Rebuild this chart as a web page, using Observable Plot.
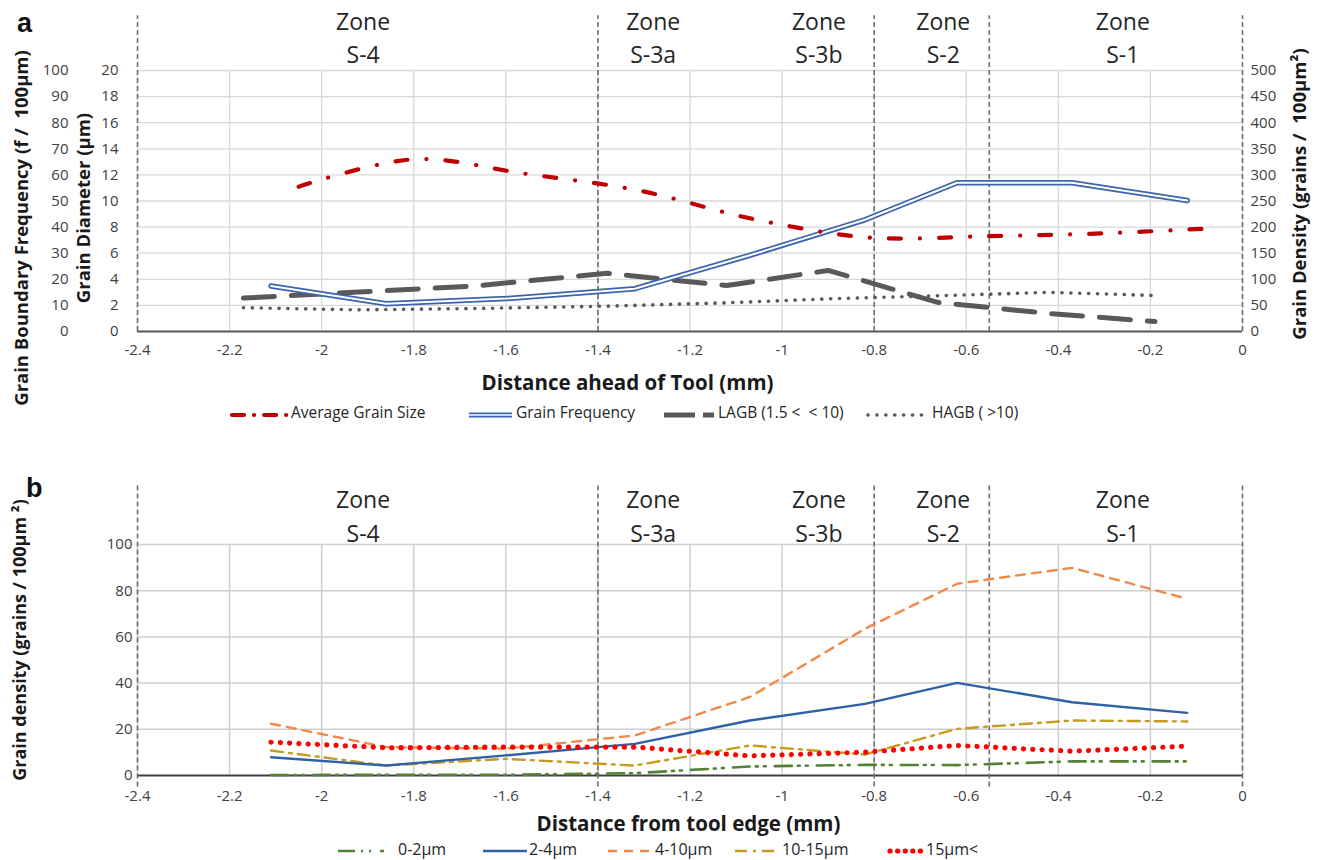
<!DOCTYPE html>
<html>
<head>
<meta charset="utf-8">
<script src="https://cdn.jsdelivr.net/npm/d3@7"></script>
<script src="https://cdn.jsdelivr.net/npm/@observablehq/plot@0.6"></script>
<style>
  html, body { margin: 0; padding: 0; background: #fff; }
  body { width: 1320px; height: 860px; position: relative; overflow: hidden; font-family: "Open Sans", sans-serif; color: #262626; }
  .panel { position: absolute; left: 0; }
  .tag { position: absolute; font-family: "Liberation Sans", Arial, sans-serif; font-weight: bold; font-size: 27px; color: #111; }
  .leg { position: absolute; color: #262626; white-space: pre; line-height: 1; }
</style>
</head>
<body>
<div id="a" class="panel" style="top:0px"></div>
<div id="b" class="panel" style="top:460px"></div>
<div class="tag" style="left:17px; top:8px">a</div>
<div class="tag" style="left:26px; top:473px">b</div>
<div id="legA"></div>
<div id="legB"></div>
<script>
// ---- Panel a: grain structure ahead of the tool ----
// distances (mm) at which each series was sampled
const xSize = [-2.05, -1.80, -1.56, -1.31, -1.06, -0.81, -0.56, -0.32, -0.07];
const avgGrainSize = [11.1, 13.2, 12.1, 10.8, 8.6, 7.2, 7.3, 7.5, 7.9];            // µm
const xFreq = [-2.11, -1.86, -1.60, -1.32, -1.07, -0.82, -0.62, -0.37, -0.12];
const grainFrequency = [87, 53, 63, 82, 146, 214, 285, 285, 251];                 // grains / 100µm²
const xBoundary = [-2.17, -1.92, -1.67, -1.38, -1.12, -0.90, -0.66, -0.42, -0.19];
const lagb = [12.8, 15.1, 17.4, 22.3, 17.6, 23.4, 11.1, 6.9, 3.8];               // f / 100µm
const hagb = [9.1, 8.3, 8.8, 9.7, 11.0, 12.5, 13.7, 15.0, 13.8];                 // f / 100µm

// ---- Panel b: grain density by size class ----
const xClass = [-2.11, -1.86, -1.60, -1.32, -1.07, -0.82, -0.62, -0.37, -0.12];
const d0to2 = [0.2, 0.3, 0.3, 1.0, 3.9, 4.6, 4.5, 6.1, 6.1];
const d2to4 = [7.9, 4.3, 8.7, 13.7, 23.8, 31.0, 40.1, 31.7, 27.1];
const d4to10 = [22.4, 12.3, 11.6, 17.3, 34.0, 63.5, 83.0, 89.9, 76.5];
const d10to15 = [10.8, 4.3, 7.2, 4.3, 13.0, 9.1, 20.2, 23.8, 23.4];
const d15up = [14.4, 12.0, 12.3, 12.3, 8.5, 10.1, 13.0, 10.5, 12.7];

// ---- zones and axes ----
const zoneBounds = [-2.4, -1.4, -0.8, -0.55, 0];
const zoneNames = ["S-4", "S-3a", "S-3b", "S-2", "S-1"];
const zoneLabelX = [-1.91, -1.28, -0.92, -0.65, -0.26];
const xTicks = [-2.4, -2.2, -2, -1.8, -1.6, -1.4, -1.2, -1, -0.8, -0.6, -0.4, -0.2, 0];
const diamTicks = [0, 2, 4, 6, 8, 10, 12, 14, 16, 18, 20];
const densTicksB = [0, 20, 40, 60, 80, 100];

const zip = (xs, ys) => xs.map((x, i) => ({x, y: ys[i]}));
const zones = zoneNames.map((name, i) => ({name, x: zoneLabelX[i]}));
const fmtX = d => String(d);

// secondary scales of panel a share the diameter axis (0–20 µm)
const densToDiam = v => v / 25;   // 0–500 grains/100µm²
const freqToDiam = v => v / 5;    // 0–100 f/100µm

const gridColor = "#d9d9d9";
const zoneStyle = {stroke: "#707070", strokeWidth: 1.6, strokeDasharray: "5,3"};
const tickText = {fontSize: 15, fill: "#404040"};
const titleText = {fontWeight: "bold", fill: "#1a1a1a", textAnchor: "middle"};
const zoneText = {fontSize: 23, fill: "#262626"};

const plotA = Plot.plot({
  width: 1320, height: 400,
  marginLeft: 137, marginRight: 78, marginTop: 70, marginBottom: 69,
  x: {domain: [-2.4, 0]},
  y: {domain: [0, 20]},
  style: {fontFamily: "Open Sans, sans-serif", overflow: "visible", background: "transparent", color: "#404040"},
  marks: [
    Plot.gridX(xTicks, {stroke: gridColor, strokeOpacity: 1, strokeWidth: 1.3}),
    Plot.gridY(diamTicks.slice(1), {stroke: gridColor, strokeOpacity: 1, strokeWidth: 1.3}),
    Plot.axisX(xTicks, {tickSize: 0, tickPadding: 13, tickFormat: fmtX, label: null, ...tickText}),
    Plot.axisY(diamTicks, {anchor: "left", tickSize: 0, tickPadding: 19, label: null, ...tickText}),
    Plot.axisY(diamTicks, {anchor: "left", tickSize: 0, tickPadding: 69, tickFormat: d => d * 5, label: null, ...tickText}),
    Plot.axisY(diamTicks, {anchor: "right", tickSize: 0, tickPadding: 8, tickFormat: d => d * 25, label: null, ...tickText}),
    Plot.ruleY([0], {stroke: "#595959", strokeWidth: 2.2}),
    Plot.ruleX(zoneBounds, {y1: 0, y2: 24.2, ...zoneStyle}),
    // HAGB
    Plot.line(zip(xBoundary, hagb), {x: "x", y: d => freqToDiam(d.y), stroke: "#595959", strokeWidth: 3.6,
      strokeDasharray: "0.1,8.8", strokeLinecap: "round"}),
    // LAGB
    Plot.line(zip(xBoundary, lagb), {x: "x", y: d => freqToDiam(d.y), stroke: "#595959", strokeWidth: 5,
      strokeDasharray: "31,17"}),
    // Grain frequency: double line
    Plot.line(zip(xFreq, grainFrequency), {x: "x", y: d => densToDiam(d.y), stroke: "#3b64ad", strokeWidth: 5.5, strokeLinecap: "round"}),
    Plot.line(zip(xFreq, grainFrequency), {x: "x", y: d => densToDiam(d.y), stroke: "#ffffff", strokeWidth: 2, strokeLinecap: "round"}),
    // Average grain size
    Plot.line(zip(xSize, avgGrainSize), {x: "x", y: "y", curve: "catmull-rom", stroke: "#c00000", strokeWidth: 4.2,
      strokeDasharray: "12,19,0.1,19", strokeLinecap: "round"}),
    // zone labels
    Plot.text(zones, {x: "x", y: 20, text: () => "Zone", dy: -48, ...zoneText}),
    Plot.text(zones, {x: "x", y: 20, text: "name", dy: -15, ...zoneText}),
    // axis titles
    Plot.text(["Grain Boundary Frequency (f /  100µm)"], {frameAnchor: "left", dx: -115, dy: 27, rotate: -90,
      fontSize: 18.5, ...titleText}),
    Plot.text(["Grain Diameter (µm)"], {frameAnchor: "left", dx: -53, dy: 7, rotate: -90,
      fontSize: 18.5, ...titleText}),
    Plot.text(["Grain Density (grains /  100µm²)"], {frameAnchor: "right", dx: 58, dy: -7, rotate: -90,
      fontSize: 18.5, ...titleText}),
    Plot.text(["Distance ahead of Tool (mm)"], {frameAnchor: "bottom", dx: 627 - 689.5, dy: 58,
      fontSize: 20.5, ...titleText})
  ]
});
document.getElementById("a").append(plotA);

const plotB = Plot.plot({
  width: 1320, height: 380,
  marginLeft: 137, marginRight: 78, marginTop: 84, marginBottom: 65,
  x: {domain: [-2.4, 0]},
  y: {domain: [0, 100]},
  style: {fontFamily: "Open Sans, sans-serif", overflow: "visible", background: "transparent", color: "#404040"},
  marks: [
    Plot.gridX(xTicks, {stroke: "#cfcfcf", strokeOpacity: 1, strokeWidth: 1.5}),
    Plot.gridY(densTicksB.slice(1), {stroke: "#cfcfcf", strokeOpacity: 1, strokeWidth: 1.5}),
    Plot.axisX(xTicks, {tickSize: 0, tickPadding: 15, tickFormat: fmtX, label: null, ...tickText}),
    Plot.axisY(densTicksB, {anchor: "left", tickSize: 0, tickPadding: 5, label: null, ...tickText}),
    Plot.ruleY([0], {stroke: "#404040", strokeWidth: 1.8}),
    Plot.ruleX(zoneBounds, {y1: -5, y2: 125.5, ...zoneStyle}),
    Plot.line(zip(xClass, d0to2), {x: "x", y: "y", stroke: "#548235", strokeWidth: 2.6,
      strokeDasharray: "17,6,2,6,2,9"}),
    Plot.line(zip(xClass, d10to15), {x: "x", y: "y", stroke: "#c99a20", strokeWidth: 2.4,
      strokeDasharray: "12,6,3,6"}),
    Plot.line(zip(xClass, d4to10), {x: "x", y: "y", stroke: "#f0894a", strokeWidth: 2.4,
      strokeDasharray: "9,7"}),
    Plot.line(zip(xClass, d2to4), {x: "x", y: "y", stroke: "#2e62a4", strokeWidth: 2.4}),
    Plot.line(zip(xClass, d15up), {x: "x", y: "y", stroke: "#ff0000", strokeWidth: 5.2,
      strokeDasharray: "0.1,9.2", strokeLinecap: "round"}),
    Plot.text(zones, {x: "x", y: 100, text: () => "Zone", dy: -44, ...zoneText}),
    Plot.text(zones, {x: "x", y: 100, text: "name", dy: -10, ...zoneText}),
    Plot.text(["Grain density (grains / 100µm ²)"], {frameAnchor: "left", dx: -117, dy: -20, rotate: -90,
      fontSize: 18, ...titleText}),
    Plot.text(["Distance from tool edge (mm)"], {frameAnchor: "bottom", dx: 688 - 689.5, dy: 55,
      fontSize: 20.5, ...titleText})
  ]
});
document.getElementById("b").append(plotB);

// ---- legends ----
function legend(containerId, top, fontSize, items) {
  const box = document.getElementById(containerId);
  for (const it of items) {
    const w = it.x1 - it.x0;
    const sw = document.createElementNS("http://www.w3.org/2000/svg", "svg");
    sw.setAttribute("width", w + 10); sw.setAttribute("height", 14);
    sw.style.position = "absolute"; sw.style.left = (it.x0 - 5) + "px"; sw.style.top = (top - 7) + "px";
    for (const s of it.strokes) {
      const l = document.createElementNS("http://www.w3.org/2000/svg", "line");
      l.setAttribute("x1", 5); l.setAttribute("x2", w + 5); l.setAttribute("y1", 7); l.setAttribute("y2", 7);
      for (const [k, v] of Object.entries(s)) l.setAttribute(k, v);
      sw.appendChild(l);
    }
    box.appendChild(sw);
    const t = document.createElement("div");
    t.className = "leg"; t.textContent = it.label;
    t.style.fontSize = fontSize + "px";
    t.style.left = it.tx + "px"; t.style.top = (top - fontSize * 0.62) + "px";
    box.appendChild(t);
  }
}
legend("legA", 415, 15.5, [
  {label: "Average Grain Size", x0: 232, x1: 287, tx: 291,
   strokes: [{stroke: "#c00000", "stroke-width": 4.2, "stroke-dasharray": "12,10,0.1,10", "stroke-linecap": "round"}]},
  {label: "Grain Frequency", x0: 469, x1: 512, tx: 516,
   strokes: [{stroke: "#3b64ad", "stroke-width": 5}, {stroke: "#fff", "stroke-width": 1.6}]},
  {label: "LAGB (1.5 <  < 10)", x0: 664, x1: 714, tx: 718,
   strokes: [{stroke: "#595959", "stroke-width": 5, "stroke-dasharray": "31,8"}]},
  {label: "HAGB ( >10)", x0: 868, x1: 926, tx: 932,
   strokes: [{stroke: "#595959", "stroke-width": 3.6, "stroke-dasharray": "0.1,8.8", "stroke-linecap": "round"}]}
]);
legend("legB", 851, 16, [
  {label: "0-2µm", x0: 338, x1: 384, tx: 398,
   strokes: [{stroke: "#548235", "stroke-width": 2.6, "stroke-dasharray": "17,6,2,6,2,9"}]},
  {label: "2-4µm", x0: 483, x1: 527, tx: 529,
   strokes: [{stroke: "#2e62a4", "stroke-width": 2.4}]},
  {label: "4-10µm", x0: 608, x1: 652, tx: 655,
   strokes: [{stroke: "#f0894a", "stroke-width": 2.4, "stroke-dasharray": "9,7"}]},
  {label: "10-15µm", x0: 735, x1: 779, tx: 782,
   strokes: [{stroke: "#c99a20", "stroke-width": 2.4, "stroke-dasharray": "12,6,3,6"}]},
  {label: "15µm<", x0: 890, x1: 924, tx: 926,
   strokes: [{stroke: "#ff0000", "stroke-width": 5.2, "stroke-dasharray": "0.1,7.5", "stroke-linecap": "round"}]}
]);
</script>
</body>
</html>
